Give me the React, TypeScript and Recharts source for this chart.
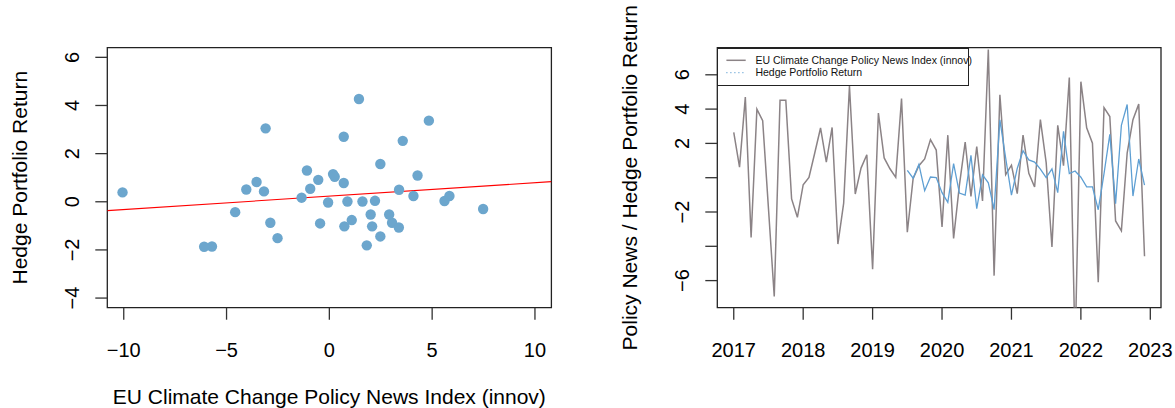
import React from 'react';
import {
  ScatterChart,
  Scatter,
  LineChart,
  Line,
  XAxis,
  YAxis,
  ReferenceLine,
  ReferenceArea,
  Legend,
  Label,
} from 'recharts';

// ---------- data ----------
const startYear = 2017;
// EU Climate Change Policy News Index (innov), monthly Jan 2017 – Dec 2022
const newsIndex = [
  2.64, 0.62, 4.7, -3.48, 4.0, 3.32, -1.8, -6.92, 4.51, 4.51, -1.24, -2.31,
  -0.41, 0.02, 1.44, 2.9, 0.91, 2.93, -3.87, -1.48, 5.35, -0.95, 0.56, 1.34,
  -5.33, 3.77, 1.15, 0.52, 0.02, 4.61, -3.18, -0.06, 0.7, 1.09, 2.22, 1.61,
  -2.87, 2.48, -3.54, -0.45, 2.08, -1.09, 1.82, -1.35, 7.48, -5.71, 4.84, 0.18,
  0.73, -0.93, 2.48, 0.26, -0.54, 3.39, 0.88, -4.04, 3.05, 0.7, 5.84, -10.06,
  5.6, 2.91, 2.01, -6.09, 4.09, 3.57, -2.52, -3.1, 1.44, 3.38, 4.29, -4.58,
];
// Hedge Portfolio Return, monthly Jul 2019 – Dec 2022
const hedgeStartIndex = 30;
const hedgeReturn = [
  0.43, -0.03, 0.78, -0.76, 0.04, 0.01, -0.87, -1.44, 0.82, -0.9, -1.02, 1.3,
  -1.81, 0.17, -0.3, -1.86, 3.37, 1.15, -1.02, 0.54, 1.57, 1.04, 0.91, 0.5,
  0.01, 0.51, -0.87, 2.7, 0.24, 0.39, 0.03, -0.53, -0.53, -1.87, 0.24, 2.53,
  -1.51, 3.05, 4.27, -1.07, 1.09, -0.43,
];

const scatterXTicks = [-10, -5, 0, 5, 10];
const scatterYTicks = [-4, -2, 0, 2, 4, 6];
const yearTicks = [2017, 2018, 2019, 2020, 2021, 2022, 2023];
const seriesYTicks = [-6, -4, -2, 0, 2, 4, 6];
const seriesYLabels = [6, 4, 2, -2, -6];

const scatterXDomain: [number, number] = [-10.8, 10.8];
const scatterYDomain: [number, number] = [-4.4, 6.4];
const seriesXDomain: [number, number] = [2016.763, 2023.154];
const seriesYDomain: [number, number] = [-7.58, 7.58];

const xTitle = 'EU Climate Change Policy News Index (innov)';
const yTitleLeft = 'Hedge Portfolio Return';
const yTitleRight = 'Policy News / Hedge Portfolio Return';
const legendNames = ['EU Climate Change Policy News Index (innov)', 'Hedge Portfolio Return'];

// ---------- derived tables ----------
const scatterData = hedgeReturn.map((h, k) => ({ x: newsIndex[k + hedgeStartIndex], y: h }));
const seriesData = newsIndex.map((v, i) => ({
  t: startYear + i / 12,
  news: v,
  hedge: i >= hedgeStartIndex ? hedgeReturn[i - hedgeStartIndex] : null,
}));

// OLS fit of hedge on news
const n = scatterData.length;
const mx = scatterData.reduce((s, d) => s + d.x, 0) / n;
const my = scatterData.reduce((s, d) => s + d.y, 0) / n;
const sxy = scatterData.reduce((s, d) => s + (d.x - mx) * (d.y - my), 0);
const sxx = scatterData.reduce((s, d) => s + (d.x - mx) * (d.x - mx), 0);
const slope = sxy / sxx;
const intercept = my - slope * mx;

// ---------- styles ----------
const FONT = '"Liberation Sans", Arial, Helvetica, sans-serif';
const FS = 20;
const TITLE_FS = 21;
const TICK_COLOR = '#333';
const BOX_COLOR = '#222';
const GRAY = '#8B8386';
const BLUE = '#5E9FD3';
const DOT = '#6CA6CD';
const LEGEND_H = 38;

const fmt = (v: number) => (v < 0 ? '\u2212' + Math.abs(v) : String(v));

const XTick = (props: any) => {
  const { x, y, payload } = props;
  return (
    <text x={x} y={y + 30} textAnchor="middle" dominantBaseline="central" fontSize={FS} fontFamily={FONT} fill="#000">
      {fmt(payload.value)}
    </text>
  );
};

const makeYTick = (shown: number[] | null) => (props: any) => {
  const { x, y, payload } = props;
  if (shown && !shown.includes(payload.value)) return <g />;
  const cx = x - 23;
  return (
    <text
      x={cx}
      y={y}
      transform={`rotate(-90, ${cx}, ${y})`}
      textAnchor="middle"
      dominantBaseline="central"
      fontSize={FS}
      fontFamily={FONT}
      fill="#000"
    >
      {fmt(payload.value)}
    </text>
  );
};

const XTitle = (props: any) => {
  const vb = props.viewBox || {};
  return (
    <text x={vb.x + vb.width / 2} y={vb.y + 89} textAnchor="middle" dominantBaseline="central" fontSize={TITLE_FS} fontFamily={FONT} fill="#000">
      {xTitle}
    </text>
  );
};

const makeYTitle = (text: string, dx: number) => (props: any) => {
  const vb = props.viewBox || {};
  const cx = vb.x + vb.width - dx;
  const cy = vb.y + vb.height / 2;
  return (
    <text x={cx} y={cy} transform={`rotate(-90, ${cx}, ${cy})`} textAnchor="middle" dominantBaseline="central" fontSize={TITLE_FS} fontFamily={FONT} fill="#000">
      {text}
    </text>
  );
};

const LegendBox = () => (
  <div style={{ width: 252, height: LEGEND_H, border: `1.3px solid ${BOX_COLOR}`, boxSizing: 'border-box', background: '#fff' }}>
    <svg width={256} height={LEGEND_H} style={{ overflow: 'visible', display: 'block', marginLeft: -1.3, marginTop: -1.3 }}>
      <line x1={9.4} x2={28.7} y1={13.3} y2={13.3} stroke={GRAY} strokeWidth={1.5} />
      <text x={38.4} y={17} fontSize={10.5} fontFamily={FONT} fill="#111">{legendNames[0]}</text>
      <line x1={9.4} x2={28.7} y1={25.6} y2={25.6} stroke={BLUE} strokeWidth={1.2} strokeDasharray="1 3" />
      <text x={38.4} y={29.3} fontSize={10.5} fontFamily={FONT} fill="#111">{legendNames[1]}</text>
    </svg>
  </div>
);

export default function App() {
  return (
    <div style={{ position: 'absolute', left: 0, top: 0, width: 1175, height: 408, background: '#fff', fontFamily: FONT }}>
      <div style={{ position: 'absolute', left: 0, top: 0 }}>
        <ScatterChart width={600} height={408} margin={{ top: 47.7, right: 48.6, bottom: 40.3, left: 47.3 }}>
          <XAxis
            type="number"
            dataKey="x"
            domain={scatterXDomain}
            allowDataOverflow
            ticks={scatterXTicks}
            interval={0}
            height={60}
            tickSize={12}
            tickMargin={0}
            axisLine={false}
            tickLine={{ stroke: TICK_COLOR, strokeWidth: 1.3 }}
            tick={<XTick />}
          >
            <Label content={<XTitle />} />
          </XAxis>
          <YAxis
            type="number"
            dataKey="y"
            domain={scatterYDomain}
            allowDataOverflow
            ticks={scatterYTicks}
            interval={0}
            width={60}
            tickSize={12}
            tickMargin={0}
            axisLine={false}
            tickLine={{ stroke: TICK_COLOR, strokeWidth: 1.3 }}
            tick={makeYTick(null)}
          >
            <Label content={makeYTitle(yTitleLeft, 87.3)} />
          </YAxis>
          <ReferenceLine
            segment={[
              { x: scatterXDomain[0], y: intercept + slope * scatterXDomain[0] },
              { x: scatterXDomain[1], y: intercept + slope * scatterXDomain[1] },
            ]}
            stroke="#FF0000"
            strokeWidth={1.1}
            ifOverflow="hidden"
          />
          <Scatter
            data={scatterData}
            isAnimationActive={false}
            shape={(p: any) => <circle cx={p.cx} cy={p.cy} r={5.2} fill={DOT} />}
          />
          <ReferenceArea
            x1={scatterXDomain[0]}
            x2={scatterXDomain[1]}
            y1={scatterYDomain[0]}
            y2={scatterYDomain[1]}
            fill="none"
            fillOpacity={0}
            stroke={BOX_COLOR}
            strokeWidth={1.3}
          />
        </ScatterChart>
      </div>
      <div style={{ position: 'absolute', left: 600, top: 0 }}>
        <LineChart data={seriesData} width={575} height={408} margin={{ top: 47.7, right: 14, bottom: 40.3 - LEGEND_H, left: 57.3 }}>
          <XAxis
            type="number"
            dataKey="t"
            domain={seriesXDomain}
            allowDataOverflow
            ticks={yearTicks}
            interval={0}
            height={60}
            tickSize={12}
            tickMargin={0}
            axisLine={false}
            tickLine={{ stroke: TICK_COLOR, strokeWidth: 1.3 }}
            tick={<XTick />}
          />
          <YAxis
            type="number"
            domain={seriesYDomain}
            allowDataOverflow
            ticks={seriesYTicks}
            interval={0}
            width={60}
            tickSize={12}
            tickMargin={0}
            axisLine={false}
            tickLine={{ stroke: TICK_COLOR, strokeWidth: 1.3 }}
            tick={makeYTick(seriesYLabels)}
          >
            <Label content={makeYTitle(yTitleRight, 87.3)} />
          </YAxis>
          <Line dataKey="news" stroke={GRAY} strokeWidth={1.5} dot={false} isAnimationActive={false} />
          <Line dataKey="hedge" stroke={BLUE} strokeWidth={1.3} dot={false} isAnimationActive={false} connectNulls={false} />
          <ReferenceArea
            x1={seriesXDomain[0]}
            x2={seriesXDomain[1]}
            y1={seriesYDomain[0]}
            y2={seriesYDomain[1]}
            fill="none"
            fillOpacity={0}
            stroke={BOX_COLOR}
            strokeWidth={1.3}
          />
          <Legend
            content={<LegendBox />}
            wrapperStyle={{ position: 'absolute', left: 117.3, top: 47.7, width: 252, height: LEGEND_H, bottom: 'auto' }}
          />
        </LineChart>
      </div>
    </div>
  );
}
